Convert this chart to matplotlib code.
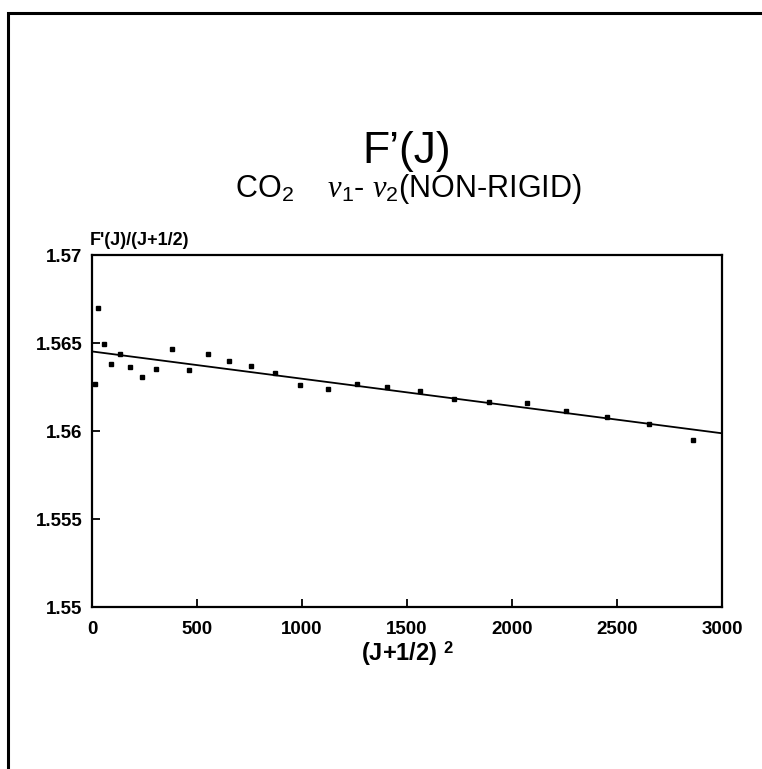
import matplotlib
matplotlib.use("Agg")
import matplotlib.pyplot as plt
from matplotlib.lines import Line2D
import numpy as np

plt.rcParams['font.family'] = ['Liberation Sans', 'DejaVu Sans']
plt.rcParams['mathtext.fontset'] = 'custom'
plt.rcParams['mathtext.rm'] = 'Liberation Sans'
plt.rcParams['mathtext.it'] = 'Liberation Serif:italic'
plt.rcParams['mathtext.bf'] = 'Liberation Sans:bold'

# Rotational quantum numbers and reduced term values F'(J)/(J+1/2)
J = [3, 5, 7, 9, 11, 13, 15, 17, 19, 21, 23, 25, 27,
     29, 31, 33, 35, 37, 39, 41, 43, 45, 47, 49, 51, 53]
ratio = [1.56266, 1.56699, 1.56496, 1.56378, 1.56435, 1.56363, 1.56308,
         1.56352, 1.56466, 1.56344, 1.56439, 1.56399, 1.56367, 1.56332,
         1.56260, 1.56241, 1.56268, 1.56249, 1.56230, 1.56181, 1.56167,
         1.56158, 1.56114, 1.56080, 1.56040, 1.55949]

# Least-squares straight line through the points
fit_intercept = 1.56452
fit_slope = -1.55e-6

x_ticks = [0, 500, 1000, 1500, 2000, 2500, 3000]
x_ticklabels = ['0', '500', '1000', '1500', '2000', '2500', '3000']
y_ticks = [1.55, 1.555, 1.56, 1.565, 1.57]
y_ticklabels = ['1.55', '1.555', '1.56', '1.565', '1.57']

W, H = 762, 769
fig = plt.figure(figsize=(W / 100, H / 100), dpi=100)

# page border (left and top edges)
fig.add_artist(Line2D([8 / W, 8 / W, 1.0], [0.0, 1 - 13 / H, 1 - 13 / H],
                      transform=fig.transFigure, color='black', lw=2.2,
                      solid_joinstyle='miter'))

ax = fig.add_axes([92 / W, 1 - 607 / H, 630 / W, 352 / H])

x = (np.array(J) + 0.5) ** 2
ax.plot(x, ratio, linestyle='none', marker='s', ms=3.5, color='black')

xf = np.array([x_ticks[0], x_ticks[-1]])
ax.plot(xf, fit_intercept + fit_slope * xf, color='black', lw=1.3)

ax.set_xlim(x_ticks[0], x_ticks[-1])
ax.set_ylim(y_ticks[0], y_ticks[-1])
ax.set_xticks(x_ticks)
ax.set_xticklabels(x_ticklabels)
ax.set_yticks(y_ticks)
ax.set_yticklabels(y_ticklabels)
for lbl in ax.get_xticklabels() + ax.get_yticklabels():
    lbl.set_fontweight('bold')
ax.tick_params(axis='both', direction='in', length=6, width=1.3,
               labelsize=13.5, colors='black')
ax.tick_params(axis='x', pad=10)
ax.tick_params(axis='y', pad=7)
for sp in ax.spines.values():
    sp.set_linewidth(1.6)

ax.set_xlabel(r"(J+1/2) $^{\mathbf{2}}$", fontsize=17, fontweight='bold',
              labelpad=1)

fig.text(90 / W, 1 - 245 / H, "F'(J)/(J+1/2)", fontsize=13,
         fontweight='bold', ha='left', va='baseline')

fig.text(407 / W, 1 - 163 / H, "F\u2019(J)", fontsize=32,
         ha='center', va='baseline')
fig.text(408 / W, 1 - 197 / H,
         r"CO$_2$    $\nu_1$- $\nu_2$(NON-RIGID)", fontsize=22,
         ha='center', va='baseline')

fig.savefig("out.png", dpi=100, facecolor='white')
